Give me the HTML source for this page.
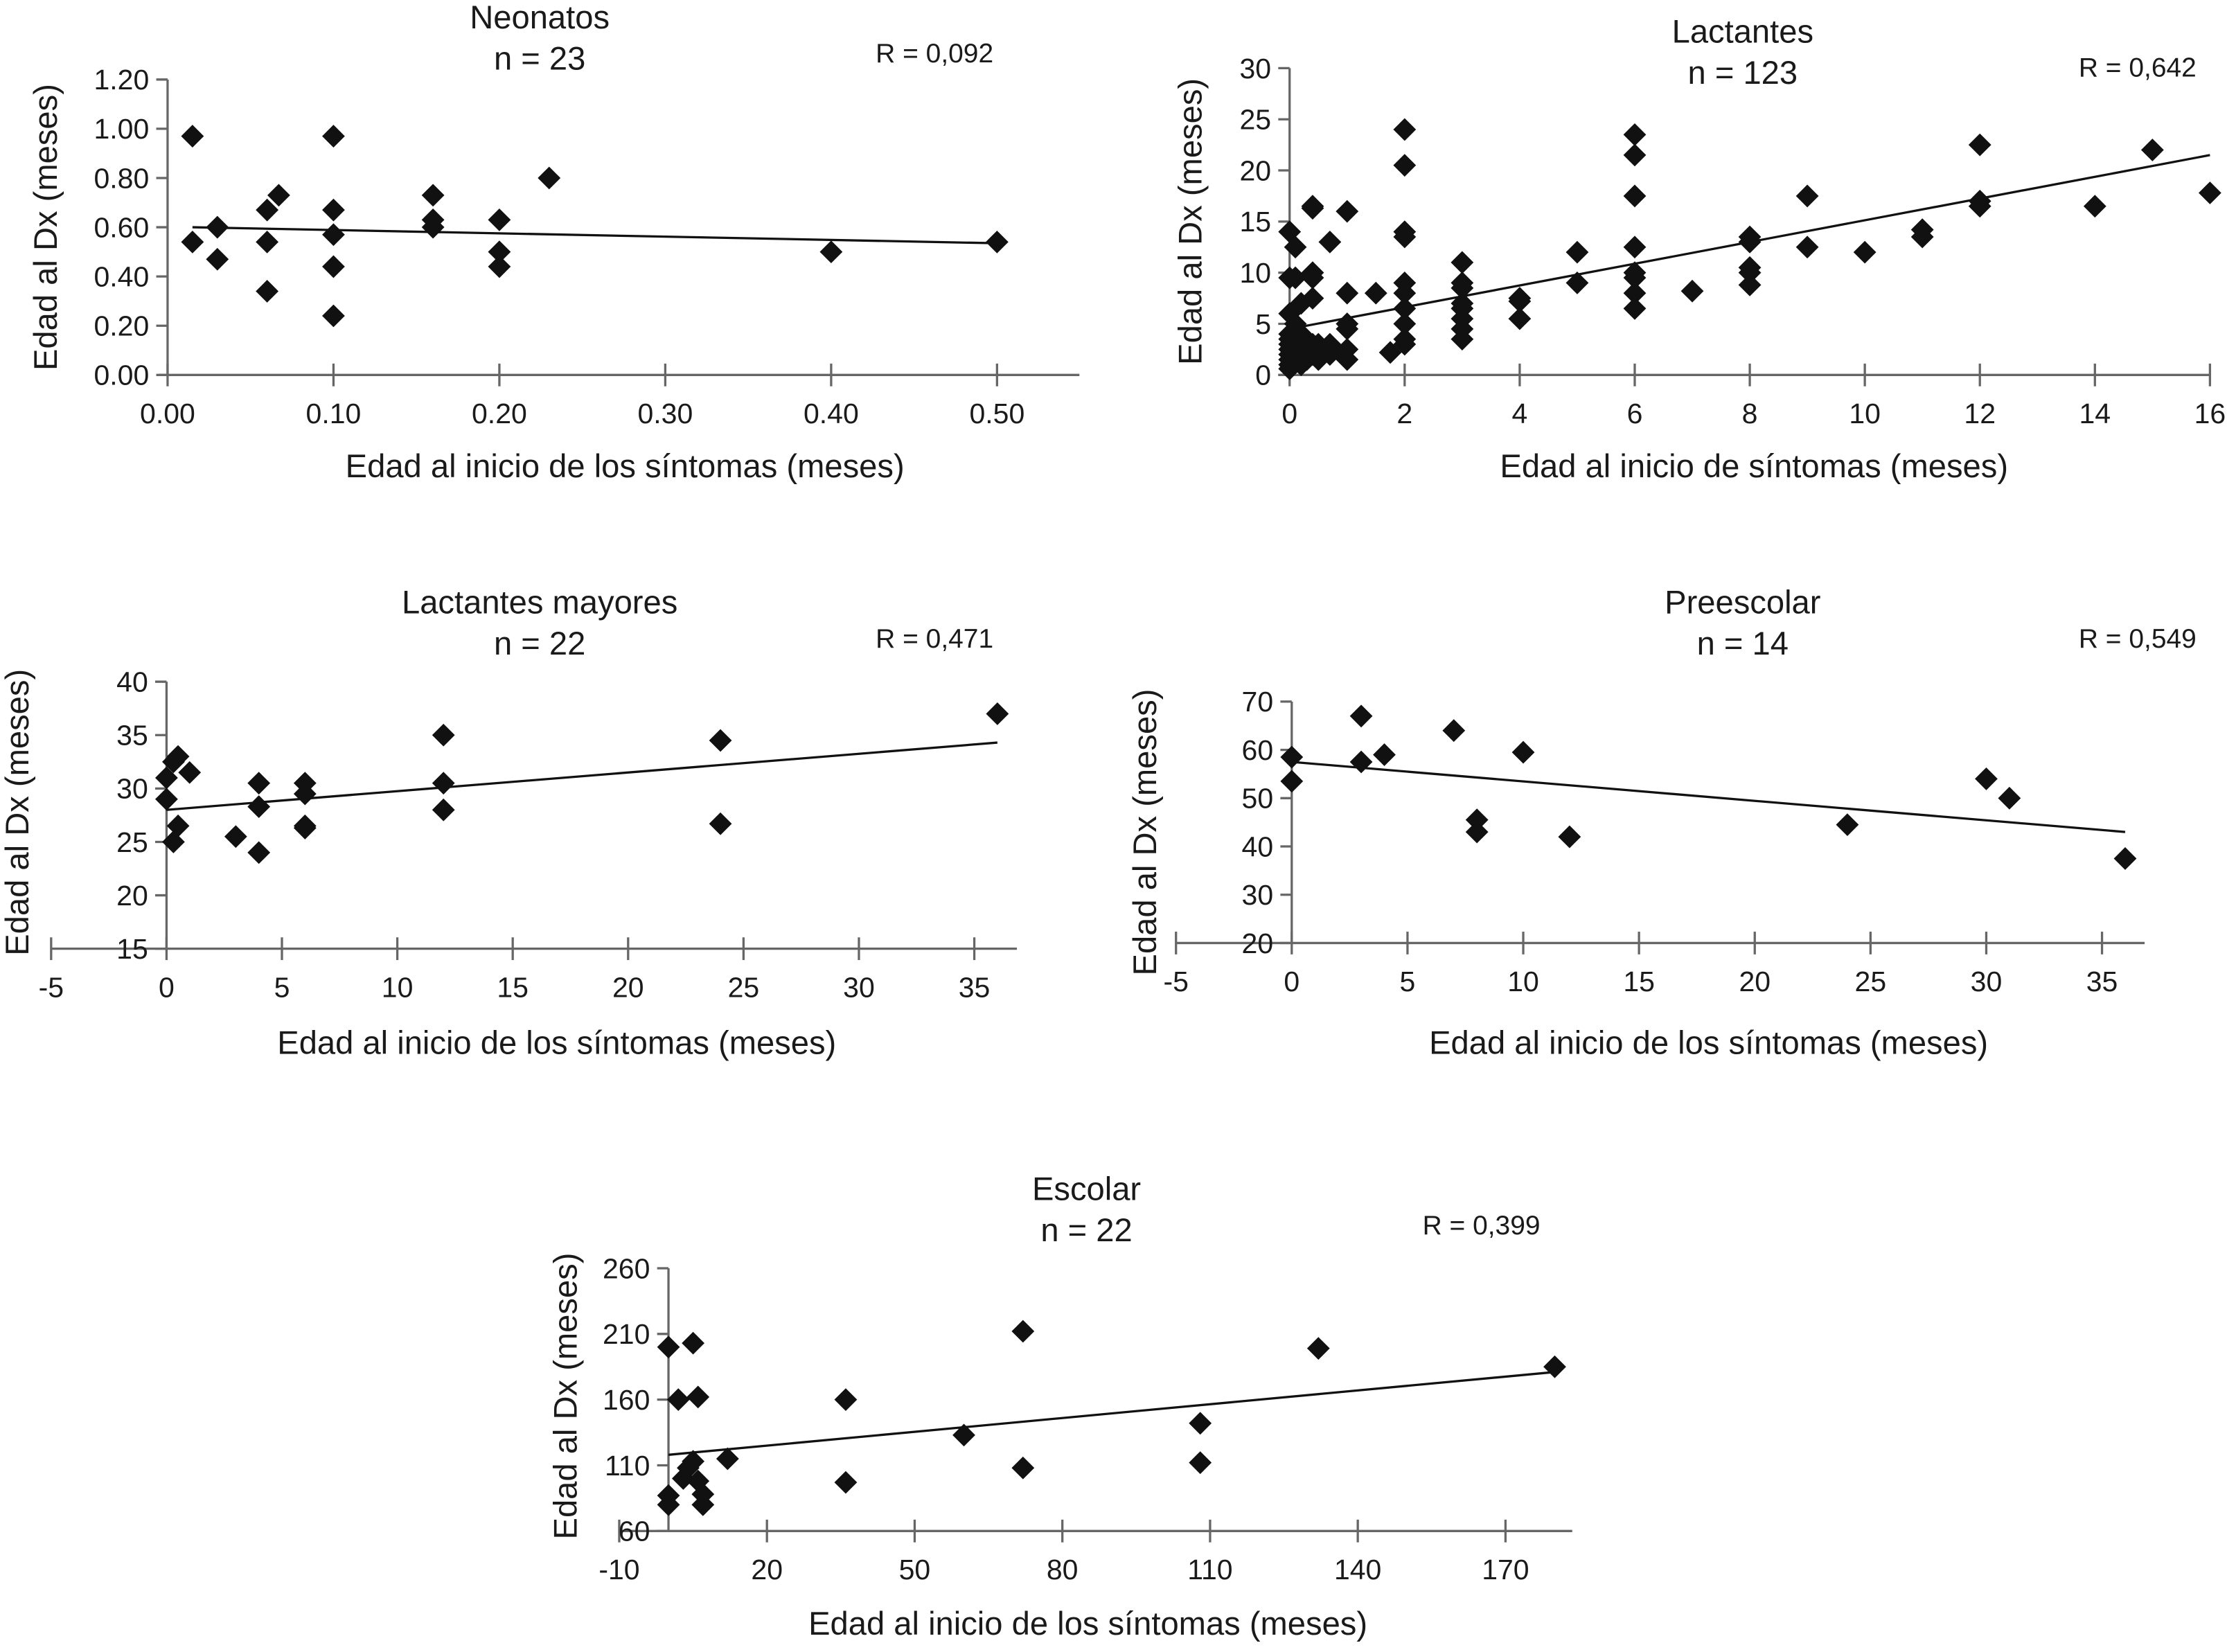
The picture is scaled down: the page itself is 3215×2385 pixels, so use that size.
<!DOCTYPE html>
<html><head><meta charset="utf-8"><style>
html,body{margin:0;padding:0;background:#fff}
svg{display:block}
text{font-family:"Liberation Sans",sans-serif;fill:#1a1a1a}
</style></head><body>
<svg id="fig" width="3215" height="2385" viewBox="0 0 1568 1163.2" preserveAspectRatio="none" xmlns="http://www.w3.org/2000/svg"></svg>
<script>
// Neonatos
const neoX=[0.015,0.015,0.03,0.03,0.06,0.06,0.06,0.067,0.1,0.1,0.1,0.1,0.1,0.16,0.16,0.16,0.2,0.2,0.2,0.23,0.4,0.5];
const neoY=[0.97,0.54,0.60,0.47,0.67,0.54,0.34,0.73,0.97,0.67,0.57,0.44,0.24,0.73,0.63,0.60,0.63,0.50,0.44,0.80,0.50,0.54];
const neoXTicks=["0.00","0.10","0.20","0.30","0.40","0.50"];
const neoYTicks=["0.00","0.20","0.40","0.60","0.80","1.00","1.20"];
const neoTrend=[[0.015,0.60],[0.5,0.535]];
// Lactantes
const lacX=[0,0,0,0,0,0,0,0,0,0,0,0.1,0.1,0.1,0.1,0.2,0.2,0.2,0.2,0.3,0.3,0.3,0.4,0.4,0.4,0.4,0.4,0.4,0.4,0.5,0.5,0.5,0.7,0.7,0.7,1,1,1,1,1,1,1.5,1.75,2,2,2,2,2,2,2,2,2,2,3,3,3,3,3,3,3,3,4,4,4,5,5,6,6,6,6,6,6,6,6,7,8,8,8,8,8,9,9,10,11,11,12,12,12,14,15,16];
const lacY=[14,9.5,6,4,3,2.5,2,1.5,1,0.6,3.5,12.5,9.5,5,3,7,4,2,1,3,1.5,2.5,16.5,16.3,10,9.5,7.5,3,2,3,2.5,1.5,13,3,2,16,8,5,4.5,2.5,1.5,8,2.2,24,20.5,14,13.5,9,8,6.5,5,3.5,3,11,9,8.5,7,6.5,5.5,4.5,3.5,7.5,7.2,5.5,12,9,23.5,21.5,17.5,12.5,10,9.5,8,6.5,8.2,13.5,13,10.5,10,8.8,17.5,12.5,12,14.2,13.5,22.5,17,16.5,16.5,22,17.8];
const lacXTicks=["0","2","4","6","8","10","12","14","16"];
const lacYTicks=["0","5","10","15","20","25","30"];
const lacTrend=[[0,4.5],[16,21.5]];
// Lactantes mayores
const lmX=[0,0,0.3,0.5,0.5,0.3,1,3,4,4,4,6,6,6,6,12,12,12,24,24,36];
const lmY=[31,29,32.5,33,26.5,25,31.5,25.5,30.5,28.3,24,30.5,29.5,26.5,26.3,35,30.5,28,34.5,26.7,37];
const lmXTicks=["-5","0","5","10","15","20","25","30","35"];
const lmYTicks=["15","20","25","30","35","40"];
const lmTrend=[[0,28],[36,34.3]];
// Preescolar
const prX=[0,0,3,3,4,7,8,8,10,12,24,30,31,36];
const prY=[58.5,53.5,67,57.5,59,64,45.5,43,59.5,42,44.5,54,50,37.5];
const prXTicks=["-5","0","5","10","15","20","25","30","35"];
const prYTicks=["20","30","40","50","60","70"];
const prTrend=[[0,57.5],[36,43]];
// Escolar
const esX=[0,0,0,2,3,4,5,5,6,6,7,7,12,36,36,60,72,72,108,108,132,180];
const esY=[200,87,80,160,100,108,203,113,162,98,88,80,115,160,97,133,212,108,142,112,199,185];
const esXTicks=["-10","20","50","80","110","140","170"];
const esYTicks=["60","110","160","210","260"];
const esTrend=[[0,118],[180,181]];

const NS="http://www.w3.org/2000/svg";
const svg=document.getElementById('fig');
function mk(tag,attrs,parent,txt){const e=document.createElementNS(NS,tag);for(const k in attrs)e.setAttribute(k,attrs[k]);if(txt!==undefined)e.textContent=txt;(parent||svg).appendChild(e);return e;}

function chart(c){
  const g=mk('g',{});
  
  
  const sx=v=>c.x0+(v-c.xmin)/(c.xmax-c.xmin)*(c.x1-c.x0);
  const sy=v=>c.y0-(v-c.ymin)/(c.ymax-c.ymin)*(c.y0-c.y1);
  const ax=mk('g',{stroke:'#666','stroke-width':1.6},g);
  
  
  const yx=sx(c.yAxisAt);
  mk('line',{x1:yx,y1:c.y1,x2:yx,y2:c.y0},ax);
  mk('line',{x1:c.axL,y1:c.y0,x2:c.axR,y2:c.y0},ax);
  c.yt.forEach(t=>{const y=sy(parseFloat(t));mk('line',{x1:yx-8,y1:y,x2:yx,y2:y},ax);
    const tx=mk('text',{x:yx-13,y:y+7,'text-anchor':'end','font-size':20},g,t);
    
    });
  c.xt.forEach(t=>{const x=sx(parseFloat(t));mk('line',{x1:x,y1:c.y0-8,x2:x,y2:c.y0+8},ax);
    const tx=mk('text',{x:x,y:c.y0+34,'text-anchor':'middle','font-size':20},g,t);
    
    });
  const tl=mk('line',{x1:sx(c.tr[0][0]),y1:sy(c.tr[0][1]),x2:sx(c.tr[1][0]),y2:sy(c.tr[1][1]),stroke:'#111','stroke-width':1.6},g);
  
  
  c.xs.forEach((v,i)=>{const x=sx(v),y=sy(c.ys[i]),r=8;
    const p=mk('path',{d:`M${x} ${y-r}L${x+r} ${y}L${x} ${y+r}L${x-r} ${y}Z`,fill:'#111'},g);
    
    });
  const t1=mk('text',{x:c.tx,y:c.ty,'text-anchor':'middle','font-size':23},g,c.title);
  
  
  const t2=mk('text',{x:c.tx,y:c.ty+29,'text-anchor':'middle','font-size':23},g,c.n);
  
  
  const t3=mk('text',{x:c.rx,y:c.ry,'text-anchor':'middle','font-size':19},g,c.r);
  
  
  const xl=mk('text',{x:c.xlx,y:c.xly,'text-anchor':'middle','font-size':23},g,c.xlab);
  
  
  const yl=mk('text',{x:0,y:0,'text-anchor':'middle','font-size':23,transform:`translate(${c.ylx},${c.yly}) rotate(-90)`},g,'Edad al Dx (meses)');
  
  
}
chart({name:'neonatos-chart',xs:neoX,ys:neoY,xt:neoXTicks,yt:neoYTicks,tr:neoTrend,xmin:0,xmax:0.5,x0:118,x1:702,ymin:0,ymax:1.2,y0:264,y1:56,yAxisAt:0,axL:112,axR:760,
  title:'Neonatos',n:'n = 23',tx:380,ty:20,r:'R = 0,092',rx:658,ry:44,xlab:'Edad al inicio de los síntomas (meses)',xlx:440,xly:336,ylx:40,yly:160});
chart({name:'lactantes-chart',xs:lacX,ys:lacY,xt:lacXTicks,yt:lacYTicks,tr:lacTrend,xmin:0,xmax:16,x0:908,x1:1556,ymin:0,ymax:30,y0:264,y1:48,yAxisAt:0,axL:900,axR:1556,
  title:'Lactantes',n:'n = 123',tx:1227,ty:30,r:'R = 0,642',rx:1505,ry:54,xlab:'Edad al inicio de síntomas (meses)',xlx:1235,xly:336,ylx:846,yly:156});
chart({name:'lactantes-mayores-chart',xs:lmX,ys:lmY,xt:lmXTicks,yt:lmYTicks,tr:lmTrend,xmin:-5,xmax:35,x0:36,x1:686,ymin:15,ymax:40,y0:668,y1:480,yAxisAt:0,axL:36,axR:716,
  title:'Lactantes mayores',n:'n = 22',tx:380,ty:432,r:'R = 0,471',rx:658,ry:456,xlab:'Edad al inicio de los síntomas (meses)',xlx:392,xly:742,ylx:20,yly:572});
chart({name:'preescolar-chart',xs:prX,ys:prY,xt:prXTicks,yt:prYTicks,tr:prTrend,xmin:-5,xmax:35,x0:828,x1:1480,ymin:20,ymax:70,y0:664,y1:494,yAxisAt:0,axL:828,axR:1510,
  title:'Preescolar',n:'n = 14',tx:1227,ty:432,r:'R = 0,549',rx:1505,ry:456,xlab:'Edad al inicio de los síntomas (meses)',xlx:1203,xly:742,ylx:814,yly:586});
chart({name:'escolar-chart',xs:esX,ys:esY,xt:esXTicks,yt:esYTicks,tr:esTrend,xmin:-10,xmax:170,x0:436,x1:1060,ymin:60,ymax:260,y0:1078,y1:893,yAxisAt:0,axL:436,axR:1107,
  title:'Escolar',n:'n = 22',tx:765,ty:845,r:'R = 0,399',rx:1043,ry:869,xlab:'Edad al inicio de los síntomas (meses)',xlx:766,xly:1151,ylx:406,yly:983});
</script>
</body></html>
